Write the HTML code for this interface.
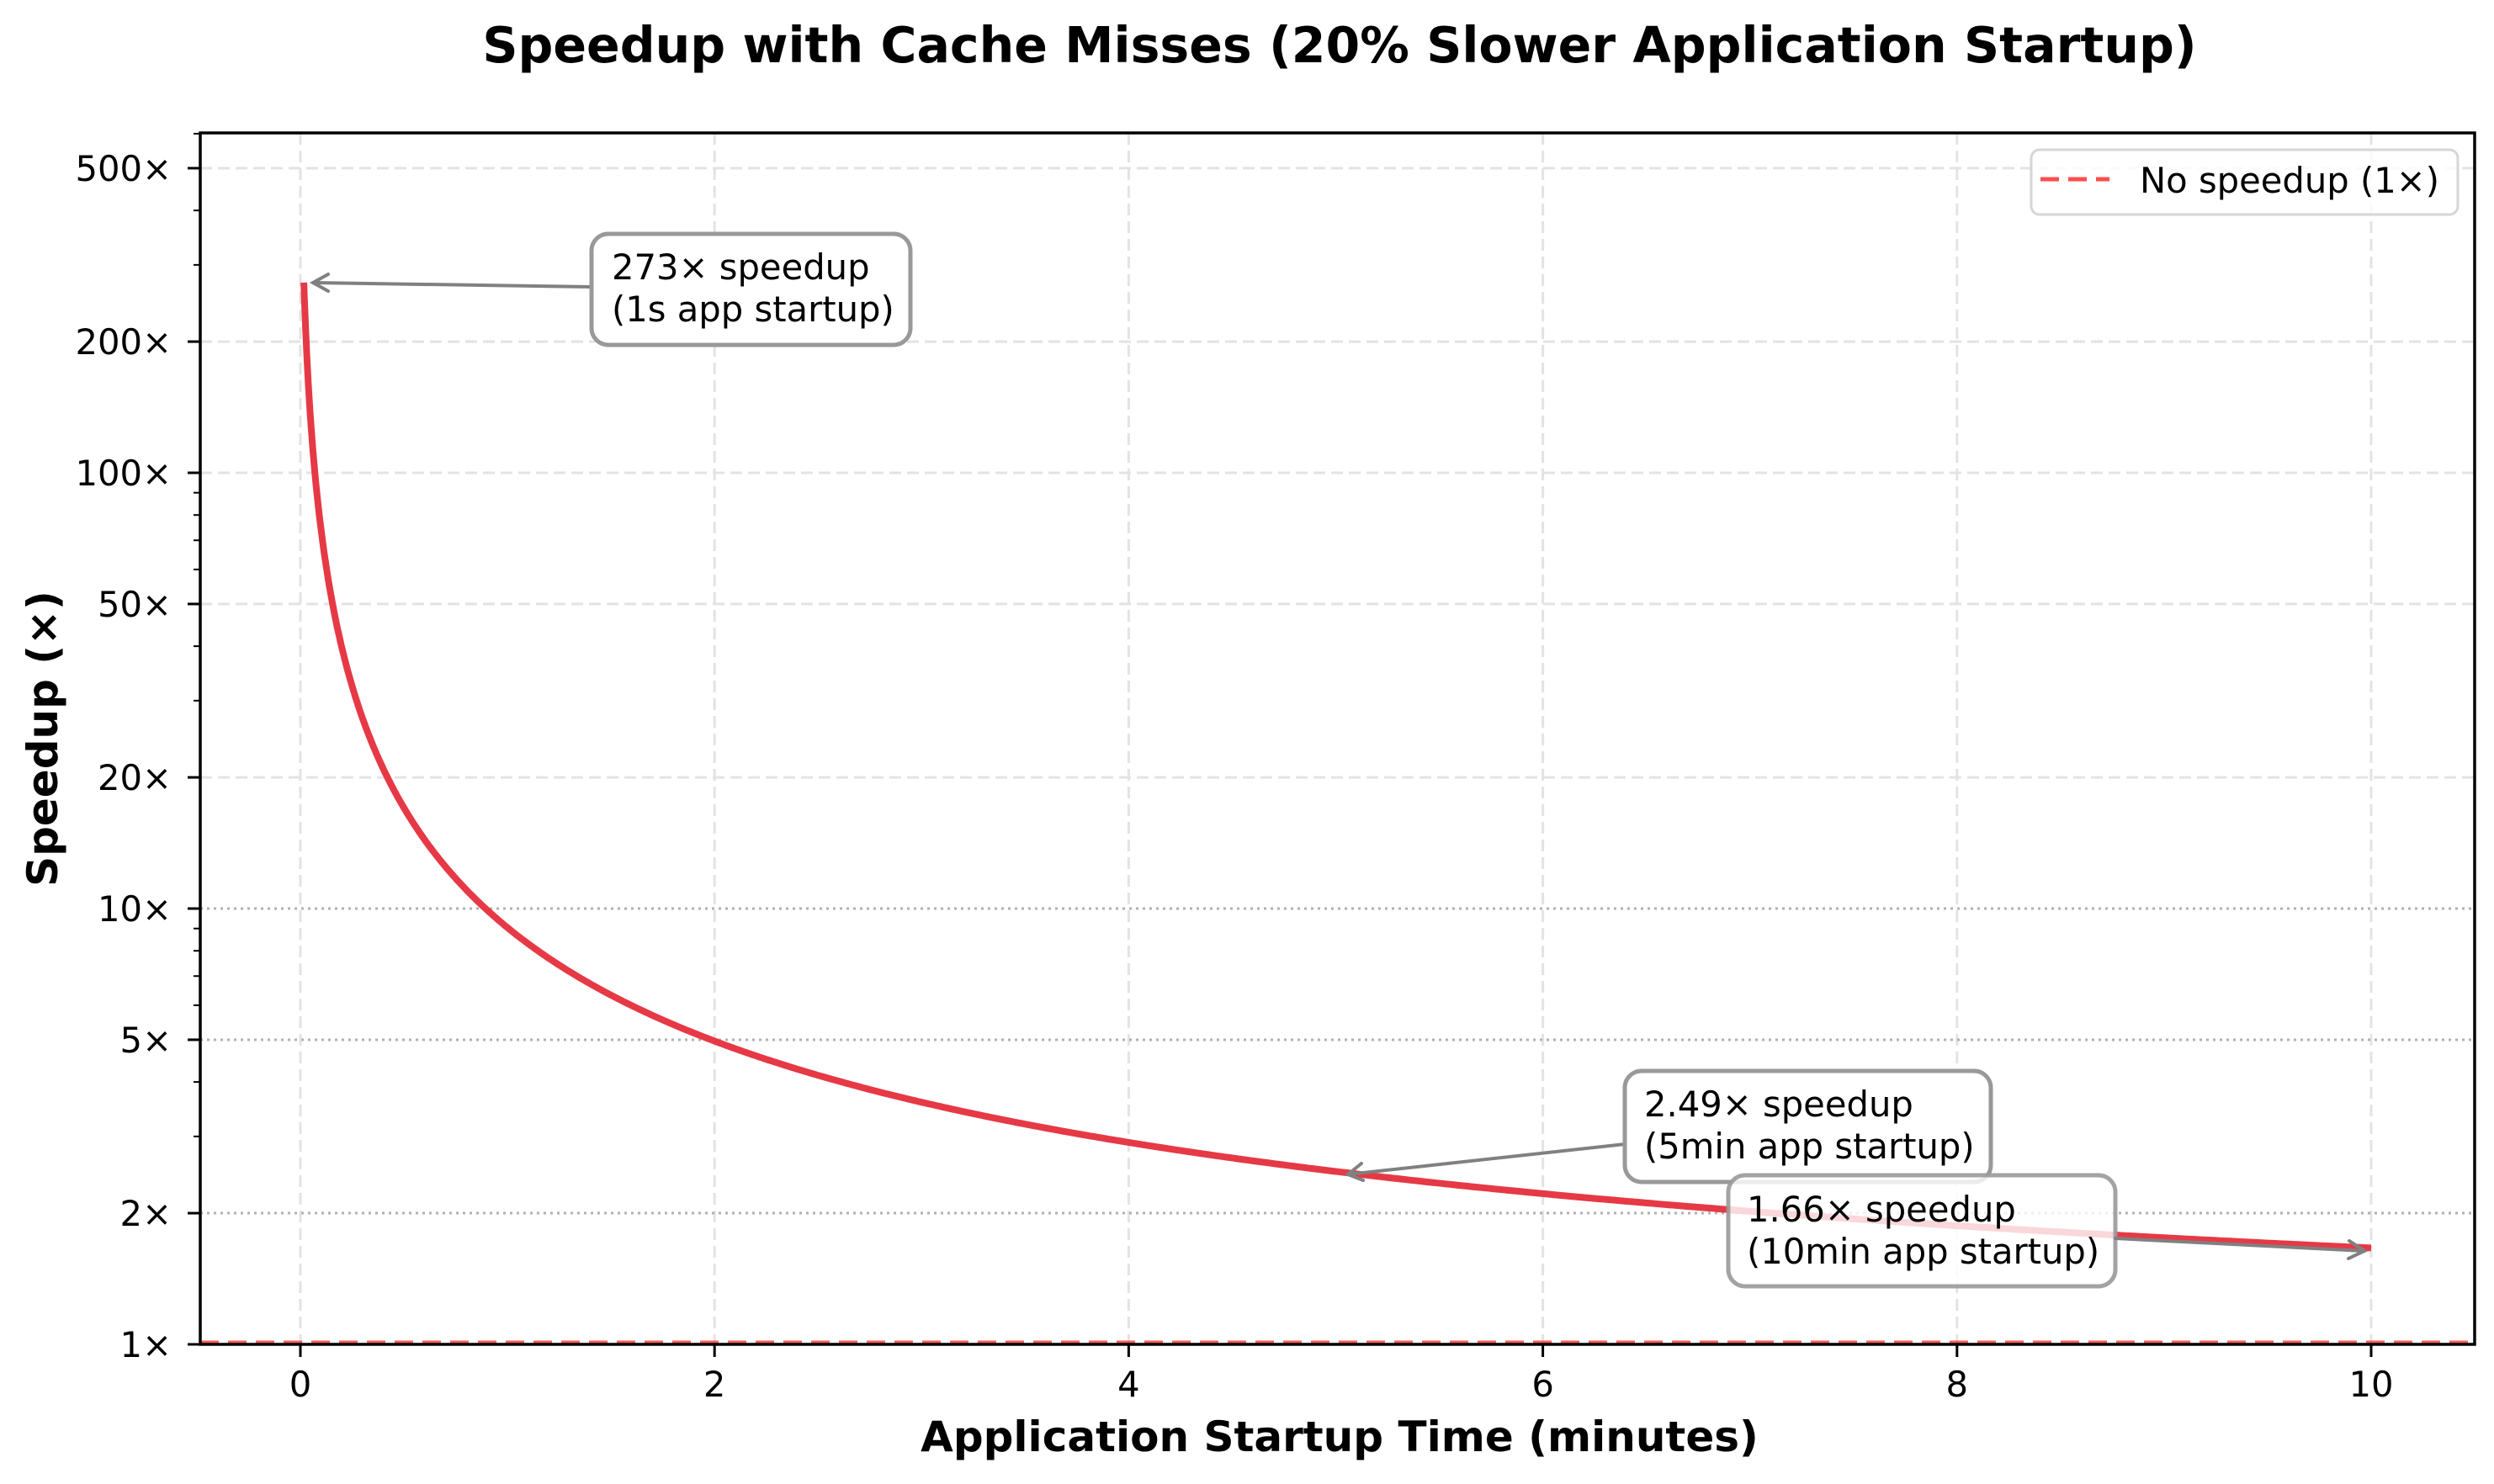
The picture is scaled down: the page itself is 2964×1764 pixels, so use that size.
<!DOCTYPE html>
<html><head><meta charset="utf-8"><style>
html,body{margin:0;padding:0;background:#fff;}
svg{display:block;font-family:"DejaVu Sans","Liberation Sans",sans-serif;}
</style></head><body>
<svg id="s" width="2964" height="1764" viewBox="0 0 2964 1764" xmlns="http://www.w3.org/2000/svg">
<rect width="2964" height="1764" fill="#fff"/>
<g id="grid"></g>
<g stroke="#b0b0b0" stroke-width="3" stroke-dasharray="3,5">
<line x1="238" x2="2941" y1="1080" y2="1080"/>
<line x1="238" x2="2941" y1="1236" y2="1236"/>
<line x1="238" x2="2941" y1="1442" y2="1442"/>
</g>
<line x1="238" x2="2941" y1="1596" y2="1596" stroke="#ff4d4d" stroke-width="5" stroke-dasharray="22,11" opacity="0.9"/>
<path id="curve" fill="none" stroke="#e63946" stroke-width="8" stroke-linejoin="round"/>
<g stroke="#808080" stroke-width="4" fill="none" stroke-linecap="round">
<line x1="703" y1="341" x2="372" y2="336"/>
<polyline points="390,326 372,336 390,346"/>
<line x1="1931" y1="1360" x2="1602" y2="1396"/>
<polyline points="1618,1383 1602,1396 1620,1403"/>
</g>
<rect x="703" y="278" width="379" height="132" rx="20" fill="#fff" stroke="#999" stroke-width="5"/>
<text x="727" y="332" font-size="41.7">273× speedup</text>
<text x="727" y="382" font-size="41.7">(1s app startup)</text>
<rect x="1931" y="1273" width="435" height="132" rx="20" fill="#fff" stroke="#999" stroke-width="5"/>
<text x="1954" y="1327" font-size="41.7">2.49× speedup</text>
<text x="1954" y="1377" font-size="41.7">(5min app startup)</text>
<rect x="2054" y="1397" width="460" height="132" rx="20" fill="#fff" fill-opacity="0.8" stroke="#999" stroke-opacity="0.9" stroke-width="5"/>
<text x="2076" y="1452" font-size="41.7">1.66× speedup</text>
<text x="2076" y="1502" font-size="41.7">(10min app startup)</text>
<g stroke="#808080" stroke-width="4" fill="none" stroke-linecap="round">
<line x1="2514" y1="1472" x2="2810" y2="1487"/>
<polyline points="2792,1475 2810,1487 2791,1496"/>
</g>
<rect x="238" y="158" width="2703" height="1440" fill="none" stroke="#000" stroke-width="3.5"/>
<g id="ticks" stroke="#000" stroke-width="3"></g>
<g id="labels" font-size="41.7" fill="#000"></g>
<rect x="2414" y="178" width="507" height="77" rx="10" fill="#fff" fill-opacity="0.8" stroke="#d6d6d6" stroke-width="3"/>
<line x1="2425" x2="2507" y1="213" y2="213" stroke="#ff4d4d" stroke-width="5" stroke-dasharray="22,11"/>
<text x="2543" y="229" font-size="41.7">No speedup (1×)</text>
<text x="1592" y="74" font-size="58.5" font-weight="bold" text-anchor="middle">Speedup with Cache Misses (20% Slower Application Startup)</text>
<text x="1592" y="1725" font-size="50" font-weight="bold" text-anchor="middle">Application Startup Time (minutes)</text>
<text transform="translate(68,878) rotate(-90)" font-size="50" font-weight="bold" text-anchor="middle">Speedup (×)</text>
</svg>
<script>
var NS="http://www.w3.org/2000/svg";
function X(t){return 357+246.1*t;}
function Y(s){return 1598-518*Math.log10(s);}
function el(p,n,a,txt){var e=document.createElementNS(NS,n);for(var k in a)e.setAttribute(k,a[k]);if(txt!==undefined)e.textContent=txt;document.getElementById(p).appendChild(e);}
for(var i=0;i<=10;i+=2){el("grid","line",{x1:X(i),x2:X(i),y1:158,y2:1598,stroke:"#e3e3e3","stroke-width":3,"stroke-dasharray":"14,7"});}
[500,200,100,50,20].forEach(function(v){el("grid","line",{x1:238,x2:2941,y1:Y(v),y2:Y(v),stroke:"#e3e3e3","stroke-width":3,"stroke-dasharray":"14,7"});});
var d="";for(var k=0;k<=600;k++){var t=1/60+(10-1/60)*Math.pow(k/600,1.6);var s=(10+t)/(1/60+1.2*t);d+=(k?"L":"M")+X(t).toFixed(1)+","+Y(s).toFixed(1);}
document.getElementById("curve").setAttribute("d",d);
for(var i=0;i<=10;i+=2){el("ticks","line",{x1:X(i),x2:X(i),y1:1598,y2:1613});el("labels","text",{x:X(i),y:1660,"text-anchor":"middle"},String(i));}
[1,2,5,10,20,50,100,200,500].forEach(function(v){el("ticks","line",{x1:223,x2:238,y1:Y(v),y2:Y(v)});el("labels","text",{x:204,y:Y(v)+15,"text-anchor":"end"},v+"×");});
[3,4,6,7,8,9,30,40,60,70,80,90,300,400,600].forEach(function(v){if(Y(v)>158)el("ticks","line",{x1:230,x2:238,y1:Y(v),y2:Y(v),"stroke-width":2});});
</script>
</body></html>
